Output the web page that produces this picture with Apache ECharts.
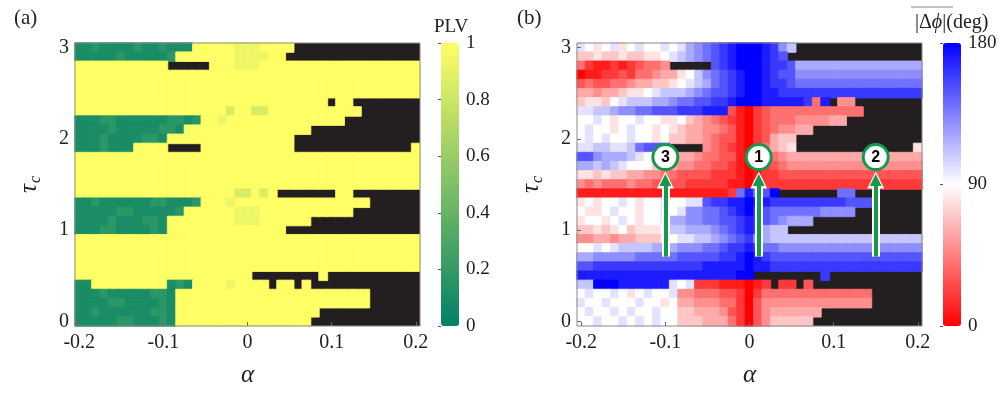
<!DOCTYPE html>
<html>
<head>
<meta charset="utf-8">
<script src="https://cdn.jsdelivr.net/npm/echarts@6/dist/echarts.min.js"></script>
<style>html,body{margin:0;padding:0;background:#fff}#c{width:1004px;height:393px}</style>
</head>
<body>
<div id="c"></div>
<script>
// ---------- data ----------
const alphaValues = [-0.2,-0.19,-0.18,-0.17,-0.16,-0.15,-0.14,-0.13,-0.12,-0.11,-0.1,-0.09,-0.08,-0.07,-0.06,-0.05,-0.04,-0.03,-0.02,-0.01,0,0.01,0.02,0.03,0.04,0.05,0.06,0.07,0.08,0.09,0.1,0.11,0.12,0.13,0.14,0.15,0.16,0.17,0.18,0.19,0.2];
const tauValues = [0,0.1,0.2,0.3,0.4,0.5,0.6,0.7,0.8,0.9,1,1.1,1.2,1.3,1.4,1.5,1.6,1.7,1.8,1.9,2,2.1,2.2,2.3,2.4,2.5,2.6,2.7,2.8,2.9,3];
const plvTicks = [0,0.2,0.4,0.6,0.8,1];
const phaseTicks = [0,90,180];

// PLV cell codes ('#' = no value, drawn black)
const plvCode = {g:0.1, h:0.17, m:0.85, l:0.93, y:1};
// rows from tau = 3 (top) down to tau = 0 (bottom); letter + run length
const plvRows = [
"g2 h1 g4 h1 g2 h1 g3 y5 l3 y4 #15",
"g5 h1 g5 h1 y7 l4 y2 #16",
"y11 #5 y3 l3 y19",
"y41",
"y41",
"y41",
"y30 #1 y2 #8",
"y18 m1 y2 m2 y11 #7",
"g3 h2 g6 h2 g1 h1 y2 l1 y14 #9",
"g4 h1 g5 h2 g1 y15 #13",
"g3 h1 g4 h2 g1 y15 #15",
"g3 h1 g3 y4 #4 y11 #14 y1",
"y41",
"y41",
"y41",
"y41",
"y19 m2 y1 m1 y1 #7 y2 #8",
"g2 h1 g6 h2 g3 h1 y3 l1 y16 #6",
"g5 h2 g5 h1 y6 l3 y11 #8",
"g4 h1 g3 h2 g1 y8 l3 y6 #13",
"g3 h2 g4 h1 g1 y14 #16",
"y41",
"y41",
"y41",
"y41",
"y21 #8 y1 #11",
"g2 y9 g1 h1 g1 y4 l1 y4 #1 y2 #1 y1 #13",
"g3 h1 g5 h2 g1 y23 #6",
"g4 h2 g4 h1 g1 y23 #6",
"g2 h1 g6 h2 g1 y17 #12",
"g5 h2 g3 h1 g1 y16 #13"
];

// phase difference codes in degrees ('#' = no value, drawn black)
const phaseCode = {a:0,b:10,c:20,d:30,e:40,f:50,g:60,h:70,i:80,j:90,k:100,l:110,m:120,n:130,o:140,p:150,q:160,r:170,s:180};
const phaseRows = [
"kjijkijkjjkjk mn opq rss srq n l #15",
"hhihhihhiij kl mno pqr sssr q p #16",
"e cbbcbc deef #5 pqr sss rqqp m15",
"a bbccdc eefgg ij l nopq rss rqpp n15",
"deddee fggh hi jk lm opq rss rqqp o15",
"ggfgg hiij klllm nopp qrss rrqq q15",
"hiih jk lllmm nooppqq rsss r5q e r # ff #8",
"kkll mnnoopp pqqqrrr d ba cd e11 #7",
"jjkjijjkjjiij hg fe dc ba cd eeeffffgg #9",
"jkjjijkjjiji hgg ffe d ba cde ffgg #13",
"jkjkjjkjjij hhggf edd ba cd ghh #15",
"kkllkkl oppp #4 fedc ba ce ghi #14 i",
"pp nmmml kjj hhggf eedd ba deef g16",
"mmlml kjjj hggff eeddc ba ccde f16",
"iihihh ggffee ddddccc ba bccd d16",
"fefeeefeed dddcccccb ba c20",
"b18 c o r op s #7 oo #8",
"ijijjkjijjkjjkk pqqrr s rr q9 ppp #6",
"jiijkjjijjkjk nnoopqr s qp o6 n4 #8",
"ijjijkjijjk mmnnooppq r qponmmm #13",
"hhihijhiiij llmmmn opq r qmll #16",
"ffggfgghhhi jkkllmnop q nm l18",
"jjkjk l4 m3 n3 o2 p q2 r qoo n17",
"m2 n5 o5 p5 q2 r s rq p18",
"p2 q13 r5 s r2 q18",
"r19 s s #8 q #11",
"ll sss r6 kjk cccbbb a bc # cc # d #13",
"jkjjkjijkjjk ffeee ddc a c e13 #6",
"kjjkjjjkjjij ggfffee c a d f13 #6",
"jkjjkjkjjkjj hhgggf dc a d f g6 #12",
"jjkjjkjkjkjj hhhggg ec a df h5 #13"
];

// annotation arrows in panel (b)
const arrowAlpha = [-0.1, 0.011, 0.15];
const arrowFrom = [0.71, 0.71, 0.71];
const arrowTo = [1.55, 1.55, 1.55];
const markerTau = [1.8, 1.8, 1.8];
const markerLabels = ['3', '1', '2'];

// ---------- colours ----------
const PLV_COLORS = ['#008066', '#ffff66'];
const PHASE_COLORS = ['#ff0000', '#ffffff', '#0000ff'];

// ---------- build ----------
function expand(s) {
  let out = '';
  const re = /([a-z#])(\d*)/gi;
  let m;
  while ((m = re.exec(s))) out += m[1].repeat(m[2] ? +m[2] : 1);
  return out;
}
function cells(rows, code, vmax, colors) {
  const out = [];
  const nT = tauValues.length;
  rows.forEach((row, r) => {
    const s = expand(row);
    if (s.length !== alphaValues.length) console.error('row', r, 'length', s.length);
    const yi = nT - 1 - r;
    for (let i = 0; i < Math.min(s.length, alphaValues.length); i++) {
      const ch = s[i];
      if (ch === '#') continue;
      const v = code[ch];
      // thin same-coloured border hides anti-aliasing seams between cells
      out.push({value: [i, yi, v], itemStyle: {borderColor: echarts.color.lerp(v / vmax, colors), borderWidth: 0.8}});
    }
  });
  return out;
}

const FONT = 'Liberation Serif';
const TXT = '#222';
const BLACK = '#231f20';
const GREEN = '#149a4c';

const L = [75, 577];
const TOP = 43, W = 345, H = 283;
const CB = [441, 943], CBW = 18;

function heatX(gi) {
  return {
    type: 'category', gridIndex: gi, data: alphaValues, z: 5,
    axisLine: {show: false},
    axisTick: {show: true, inside: true, interval: 9, alignWithLabel: true, length: 4, lineStyle: {color: '#666'}},
    axisLabel: {interval: 9, fontFamily: FONT, fontSize: 20, color: TXT, margin: 7},
    splitLine: {show: false},
    name: '{i|α}', nameLocation: 'middle', nameGap: 37,
    nameTextStyle: {rich: {i: {fontFamily: FONT, fontStyle: 'italic', fontSize: 25, color: TXT}}}
  };
}
function heatY(gi) {
  return {
    type: 'category', gridIndex: gi, data: tauValues, z: 5,
    axisLine: {show: false},
    axisTick: {show: true, inside: true, interval: 9, alignWithLabel: true, length: 4, lineStyle: {color: '#666'}},
    axisLabel: {interval: 9, fontFamily: FONT, fontSize: 20, color: TXT, margin: 6},
    splitLine: {show: false},
    name: '{i|τ}{s|c}', nameLocation: 'middle', nameGap: 31, nameRotate: 90,
    nameTextStyle: {rich: {
      i: {fontFamily: FONT, fontStyle: 'italic', fontSize: 25, color: TXT},
      s: {fontFamily: FONT, fontStyle: 'italic', fontSize: 16, color: TXT, padding: [14, 0, 0, 1]}
    }}
  };
}
function cbY(gi, ticks) {
  return {
    type: 'value', gridIndex: gi, position: 'right',
    min: ticks[0], max: ticks[ticks.length - 1], interval: ticks[1] - ticks[0],
    axisLine: {show: false},
    axisTick: {show: true, inside: true, length: 3, lineStyle: {color: '#555'}},
    axisLabel: {fontFamily: FONT, fontSize: 19, color: TXT, margin: 7},
    splitLine: {show: false}
  };
}

const option = {
  animation: false,
  backgroundColor: '#fff',
  title: [
    {text: '(a)', left: 9, top: 3, textStyle: {fontFamily: FONT, fontSize: 21, fontWeight: 'normal', color: TXT}},
    {text: '(b)', left: 512, top: 3, textStyle: {fontFamily: FONT, fontSize: 21, fontWeight: 'normal', color: TXT}},
    {text: 'PLV', left: 429, top: 13, textStyle: {fontFamily: FONT, fontSize: 19, fontWeight: 'normal', color: TXT}},
    {text: '{n||Δ}{i|ϕ}{n||(deg)}', left: 910, top: 8, textStyle: {fontWeight: 'normal', rich: {
      n: {fontFamily: FONT, fontSize: 20, fontWeight: 'normal', color: TXT},
      i: {fontFamily: FONT, fontStyle: 'italic', fontSize: 20, fontWeight: 'normal', color: TXT}
    }}}
  ],
  graphic: [
    {type: 'line', shape: {x1: 911, y1: 7, x2: 953, y2: 7}, style: {stroke: '#888', lineWidth: 1}}
  ],
  grid: [
    {left: L[0], top: TOP, width: W, height: H, show: true, backgroundColor: BLACK, borderWidth: 0},
    {left: L[1], top: TOP, width: W, height: H, show: true, backgroundColor: BLACK, borderWidth: 0},
    {left: CB[0], top: TOP, width: CBW, height: H},
    {left: CB[1], top: TOP, width: CBW, height: H},
    {left: L[0], top: TOP, width: W, height: H, show: true, backgroundColor: 'transparent', borderColor: '#8a8a8a', borderWidth: 1, z: 10},
    {left: L[1], top: TOP, width: W, height: H, show: true, backgroundColor: 'transparent', borderColor: '#8a8a8a', borderWidth: 1, z: 10}
  ],
  xAxis: [
    heatX(0), heatX(1),
    {type: 'value', gridIndex: 2, show: false, min: 0, max: 1},
    {type: 'value', gridIndex: 3, show: false, min: 0, max: 1},
    {type: 'value', gridIndex: 4, show: false, min: -0.205, max: 0.205},
    {type: 'value', gridIndex: 5, show: false, min: -0.205, max: 0.205}
  ],
  yAxis: [
    heatY(0), heatY(1),
    cbY(2, plvTicks), cbY(3, phaseTicks),
    {type: 'value', gridIndex: 4, show: false, min: -0.05, max: 3.05},
    {type: 'value', gridIndex: 5, show: false, min: -0.05, max: 3.05}
  ],
  visualMap: [
    {type: 'continuous', seriesIndex: 0, min: 0, max: 1, calculable: false, hoverLink: false,
     left: CB[0], top: TOP, itemWidth: CBW, itemHeight: H, padding: 0,
     inRange: {color: PLV_COLORS}},
    {type: 'continuous', seriesIndex: 1, min: 0, max: 180, calculable: false, hoverLink: false,
     left: CB[1], top: TOP, itemWidth: CBW, itemHeight: H, padding: 0,
     inRange: {color: PHASE_COLORS}}
  ],
  series: [
    {type: 'heatmap', xAxisIndex: 0, yAxisIndex: 0, data: cells(plvRows, plvCode, 1, PLV_COLORS), progressive: 0, emphasis: {disabled: true}},
    {type: 'heatmap', xAxisIndex: 1, yAxisIndex: 1, data: cells(phaseRows, phaseCode, 180, PHASE_COLORS), progressive: 0, emphasis: {disabled: true}},
    {type: 'scatter', xAxisIndex: 5, yAxisIndex: 5, symbolSize: 0, data: [], silent: true, z: 20,
     markLine: {silent: true, animation: false, symbol: ['none', 'triangle'], symbolSize: 17, label: {show: false},
       lineStyle: {color: '#ffffff', width: 8, type: 'solid', opacity: 1},
       emphasis: {disabled: true},
       data: arrowAlpha.map((a, i) => [{coord: [a, arrowFrom[i]]}, {coord: [a, arrowTo[i]]}])}},
    {type: 'scatter', xAxisIndex: 5, yAxisIndex: 5, symbolSize: 0, data: [], silent: true, z: 21,
     markLine: {silent: true, animation: false, symbol: ['none', 'triangle'], symbolSize: 12, label: {show: false},
       lineStyle: {color: GREEN, width: 4, type: 'solid', opacity: 1},
       emphasis: {disabled: true},
       data: arrowAlpha.map((a, i) => [{coord: [a, arrowFrom[i]]}, {coord: [a, arrowTo[i]]}])}},
    {type: 'scatter', xAxisIndex: 5, yAxisIndex: 5, z: 22, silent: true,
     symbol: 'circle', symbolSize: 25,
     itemStyle: {color: '#ffffff', borderColor: GREEN, borderWidth: 3, opacity: 1},
     label: {show: true, position: 'inside', formatter: p => markerLabels[p.dataIndex],
       fontFamily: 'Liberation Sans', fontWeight: 'bold', fontSize: 16, color: '#000'},
     data: arrowAlpha.map((a, i) => [a, markerTau[i]])}
  ]
};

const chart = echarts.init(document.getElementById('c'));
chart.setOption(option);
</script>
</body>
</html>
